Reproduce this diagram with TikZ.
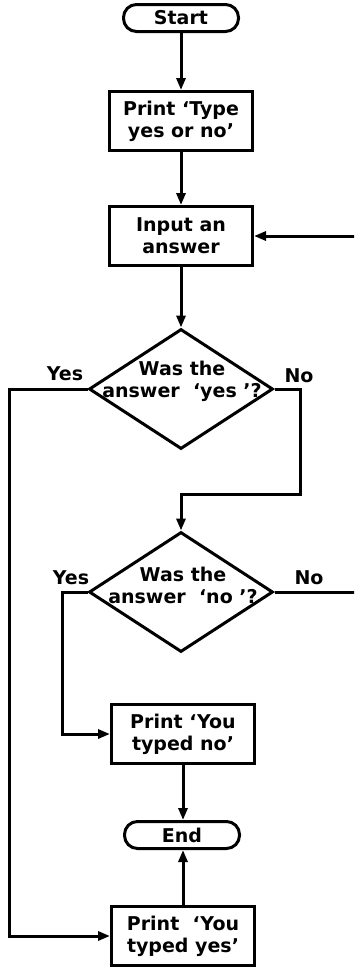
\documentclass[tikz,border=0pt]{standalone}
\usepackage{fontspec}
\setmainfont{DejaVu Sans}
\usetikzlibrary{shapes.geometric,arrows.meta}
\tikzset{
  every node/.style={font=\bfseries\fontsize{19}{22}\selectfont},
  terminal/.style={draw, line width=3pt, rounded corners=13pt, minimum width=115pt, minimum height=27pt, inner sep=0pt},
  procbox/.style={draw, line width=3pt, minimum width=143pt, minimum height=59pt, inner sep=0pt, align=center},
  dia/.style={draw, line width=3pt, diamond, minimum width=184pt, minimum height=120pt, inner sep=0pt},
  txt/.style={align=center, inner sep=0pt},
  lbl/.style={inner sep=0pt},
  conn/.style={line width=3pt, -{Triangle[length=12pt,width=9pt]}}
}
\begin{document}
\begin{tikzpicture}[x=1pt,y=-1pt]
\useasboundingbox (0,0) rectangle (354,967);
\clip (0,0) rectangle (354,967);
\node[terminal] (start) at (181,18) {Start};
\node[procbox] (print1) at (181,121) {Print ‘Type\\yes or no’};
\node[procbox] (input) at (181,236) {Input an\\answer};
\node[dia] (d1) at (181,389) {};
\node[txt] (d1t) at (182,381) {Was the\\answer\ \ ‘yes ’?};
\node[dia] (d2) at (181,592) {};
\node[txt] (d2t) at (183,585) {Was the\\answer\ \ ‘no ’?};
\node[procbox] (pno) at (183,734) {Print ‘You\\typed no’};
\node[terminal] (end) at (182,835) {End};
\node[procbox] (pyes) at (183,936) {Print\ \ ‘You\\typed yes’};
\node[lbl] (y1) at (65,374) {Yes};
\node[lbl] (n1) at (299,376) {No};
\node[lbl] (y2) at (71,578) {Yes};
\node[lbl] (n2) at (309,578) {No};
\coordinate (r1) at (300,389);
\coordinate (r2) at (300,494);
\coordinate (m2) at (181,494);
\coordinate (l1) at (9,389);
\coordinate (l2) at (9,936);
\coordinate (yl1) at (62,592);
\coordinate (yl2) at (62,734);
\coordinate (nr1) at (370,592);
\coordinate (nr2) at (370,236);
\draw[conn] (start) -- (print1);
\draw[conn] (print1) -- (input);
\draw[conn] (input) -- (d1);
\draw[conn] (d1.east) -- (r1) -- (r2) -- (m2) -- (d2.north);
\draw[conn] (d1.west) -- (l1) -- (l2) -- (pyes.west);
\draw[conn] (d2.west) -- (yl1) -- (yl2) -- (pno.west);
\draw[conn] (d2.east) -- (nr1) -- (nr2) -- (input.east);
\draw[conn] (pno.south) -- (pno.south |- end.north);
\draw[conn] (pyes.north) -- (pyes.north |- end.south);
\end{tikzpicture}
\end{document}
